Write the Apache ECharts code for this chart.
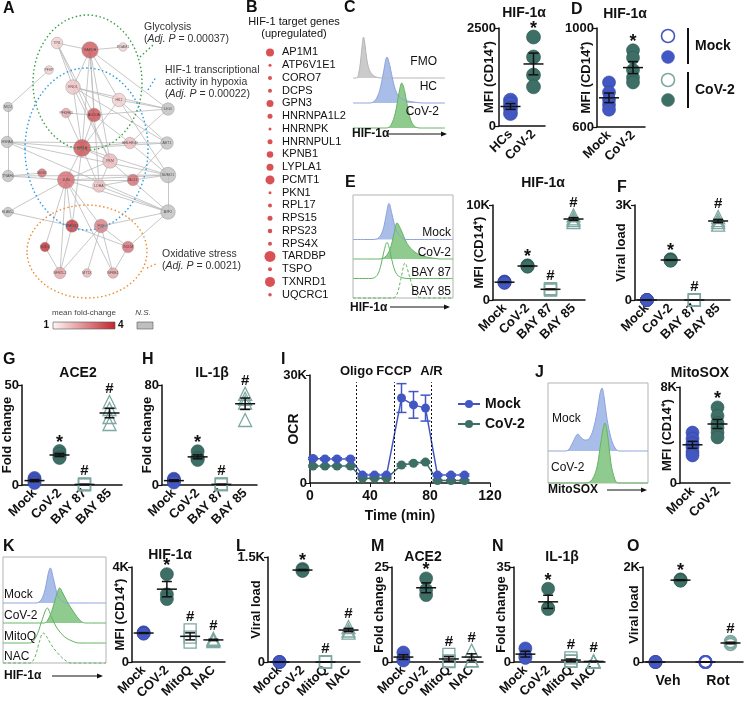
<!DOCTYPE html>
<html><head><meta charset="utf-8">
<script src="https://cdn.jsdelivr.net/npm/echarts@6/dist/echarts.min.js"></script>
<style>html,body{margin:0;padding:0;background:#fff}#c{width:747px;height:707px}</style>
</head><body><div id="c"></div>
<script>
// ================= DATA =================
// Panel A – network (nodes, mean fold-change, edges)
const netNodes = ['TPI1','GAPDH','PGAM1','PFKP','ENO1','HK1','LIG4','MCU','PFKFB3','ALDOA','HSPA8','HIF1A','BHLHE40','AKT1','PKM','TRAF6','NOS3','JUN','LDHA','MCL1','SUMO1','ELAVL1','ATF2','HMOX1','FOS','SOD2','GCLM','NFE2L2','MT1X','NFKB1'];
const netFC = [1.6,3.3,1.6,1.6,1.7,1.6,null,null,2.2,3.4,null,3.4,1.9,null,1.9,null,3.0,3.0,1.8,3.0,null,null,null,3.8,2.8,3.9,3.0,2.2,2.0,2.2];
const netEdges = [['TPI1','GAPDH'],['TPI1','ENO1'],['TPI1','ALDOA'],['TPI1','PKM'],['GAPDH','PGAM1'],['GAPDH','ENO1'],['GAPDH','ALDOA'],['GAPDH','HK1'],['GAPDH','LIG4'],['GAPDH','PKM'],['GAPDH','LDHA'],['GAPDH','HIF1A'],['PFKP','MCU'],['ENO1','HK1'],['ENO1','LIG4'],['ENO1','HIF1A'],['ENO1','PKM'],['ENO1','AKT1'],['HK1','LIG4'],['HK1','AKT1'],['HK1','HIF1A'],['HK1','SUMO1'],['PFKFB3','HIF1A'],['PFKFB3','ALDOA'],['ALDOA','LIG4'],['ALDOA','HIF1A'],['ALDOA','BHLHE40'],['MCU','TRAF6'],['HSPA8','AKT1'],['HSPA8','HIF1A'],['HSPA8','ATF2'],['HSPA8','SUMO1'],['HIF1A','JUN'],['HIF1A','BHLHE40'],['HIF1A','PKM'],['HIF1A','LDHA'],['HIF1A','SUMO1'],['HIF1A','AKT1'],['HIF1A','HMOX1'],['BHLHE40','LIG4'],['BHLHE40','SUMO1'],['PKM','LDHA'],['PKM','JUN'],['PKM','ATF2'],['TRAF6','JUN'],['TRAF6','NOS3'],['TRAF6','SUMO1'],['JUN','FOS'],['JUN','ATF2'],['JUN','SUMO1'],['JUN','HMOX1'],['JUN','NFE2L2'],['JUN','SOD2'],['JUN','MCL1'],['LDHA','ATF2'],['LDHA','MCL1'],['MCL1','AKT1'],['MCL1','SUMO1'],['SUMO1','ATF2'],['ELAVL1','JUN'],['ELAVL1','HMOX1'],['ATF2','FOS'],['ATF2','GCLM'],['HMOX1','NFE2L2'],['HMOX1','GCLM'],['FOS','GCLM'],['FOS','NFKB1'],['FOS','NFE2L2'],['GCLM','NFKB1'],['SOD2','NFE2L2'],['NFKB1','JUN'],['MT1X','FOS']];
// node placement of the network drawing (layout canvas units)
const netLayout = [[57,43],[90,50],[123,47],[49,70],[73,87],[119,100],[168,109],[8,107],[66,113],[94,115],[7,142],[82,148],[130,143],[167,143],[110,161],[8,176],[42,173],[66,180],[99,186],[133,180],[168,175],[8,212],[168,212],[72,226],[101,226],[45,247],[128,247],[60,273],[87,273],[113,273]];

// Panel B – HIF-1 target genes and relative dot weight
const hifGenes = ['AP1M1','ATP6V1E1','CORO7','DCPS','GPN3','HNRNPA1L2','HNRNPK','HNRNPUL1','KPNB1','LYPLA1','PCMT1','PKN1','RPL17','RPS15','RPS23','RPS4X','TARDBP','TSPO','TXNRD1','UQCRC1'];
const hifGeneWeight = [8,3,4,4,7,5,3,5,6.5,7,9,3,4,5,4.5,4,11,4,10,3.5];

// Panel C
const cCats = ['HCs','CoV-2'];
const cHC = [660,560,450,320];
const cCoV = [2270,1760,1300,1000];
// Panel D
const dCats = ['Mock','CoV-2'];
const dMock = [780,740,710,690,670];
const dCoV = [910,880,830,800,780];
// Panel E / F / G / H
const bayCats = ['Mock','CoV-2','BAY 87','BAY 85'];
const eMock = [1950,1900,1850,1800];
const eCoV = [3650,3600,3550,3500];
const eBay87 = [1200,1150,1100,1050];
const eBay85 = [8900,8600,8400,8200];
const fMock = [0,0,0,0];
const fCoV = [1290,1270,1250,1240];
const fBay87 = [0,0,0,0];
const fBay85 = [2620,2520,2460,2380];
const gMock = [3.5,2.5,1.8,1.0];
const gCoV = [17,15.5,14,13.5];
const gBay87 = [0.5,0.3,0.2,0.1];
const gBay85 = [41.5,38,34,30.5];
const hMock = [5,4,3,2];
const hCoV = [27,22,21,20];
const hBay87 = [0.8,0.5,0.4,0.3];
const hBay85 = [73,69,66,52];
// Panel I – OCR
const ocrTime = [2,10,18,27,35,43,51,61,69,77,85,94,103];
const ocrMock = [6800,6700,6700,6700,2200,2200,2200,23600,21700,20800,2200,2200,2200];
const ocrMockErr = [300,300,300,300,300,300,300,4000,3700,3600,300,300,300];
const ocrCoV = [4700,4700,4700,4700,1300,1300,1300,5000,5500,5800,700,700,700];
const ocrCoVErr = [250,250,250,250,200,200,200,300,300,300,200,200,200];
const injectTimes = [31,56,81];
const injectLabels = ['Oligo','FCCP','A/R'];
// Panel J
const jCats = ['Mock','CoV-2'];
const jMock = [4200,3700,3300,3000,2600,2300];
const jCoV = [6300,5600,5000,4600,4200,3800];
// Panel K / L / M / N
const kCats = ['Mock','COV-2','MitoQ','NAC'];
const roxCats = ['Mock','CoV-2','MitoQ','NAC'];
const kMock = [1250,1220,1190];
const kCoV = [3700,2850,2650];
const kMitoQ = [1350,1050,840];
const kNAC = [980,930,880];
const lMock = [0,0,0];
const lCoV = [1330,1310,1300];
const lMitoQ = [0,0,0];
const lNAC = [500,450,420];
const mMock = [2.5,1.0,0.4];
const mCoV = [22,19,17.6];
const mMitoQ = [2.0,0.3,0.1];
const mNAC = [3,0.5,0.4];
const nMock = [5,2.2,1.5];
const nCoV = [27,20,19.5];
const nMitoQ = [1.5,0.4,0.2];
const nNAC = [0.3,0.2,0.1];
// Panel O
const oCats = ['Veh Mock','Veh CoV-2','Rot Mock','Rot CoV-2'];
const oGroups = ['Veh','Rot'];
const oVehMock = [0,0,0];
const oVehCoV = [1740,1720,1710];
const oRotMock = [0,0,0];
const oRotCoV = [430,400,370];

// Flow histograms (fluorescence vs. relative count)
const hC_FMO = [[0,0],[4,0],[6,0.15],[8,0.6],[10,1.3],[11.5,1.64],[13,1.35],[15,0.75],[18,0.3],[22,0.1],[27,0.02],[32,0],[100,0]];
const hC_HC = [[0,0],[18,0],[24,0.1],[29,0.5],[33,1.2],[37,1.84],[40,1.5],[44,0.8],[49,0.3],[56,0.12],[66,0.04],[76,0],[100,0]];
const hC_CoV = [[0,0],[36,0],[41,0.1],[46,0.6],[50,1.4],[53,1.8],[56,1.5],[60,0.7],[64,0.2],[68,0.04],[73,0],[100,0]];
const hE_Mock = [[0,0],[20,0],[26,0.1],[30,0.5],[33,1.2],[36,1.85],[39,1.3],[43,0.5],[48,0.12],[54,0],[100,0]];
const hE_CoV = [[0,0],[26,0],[32,0.1],[37,0.5],[41,1.3],[44,1.85],[48,1.5],[54,0.8],[62,0.35],[72,0.12],[82,0.03],[88,0],[100,0]];
const hE_B87 = [[0,0],[18,0],[24,0.15],[28,0.7],[31,1.4],[34,1.85],[37,1.4],[40,0.7],[44,0.2],[50,0.03],[56,0],[100,0]];
const hE_B85 = [[0,0],[40,0],[44,0.2],[48,1.0],[52,1.8],[56,1.2],[60,0.5],[64,0.1],[70,0],[100,0]];
const hJ_Mock = [[0,0],[18,0],[22,0.1],[26,0.35],[30,0.53],[33,0.42],[37,0.34],[41,0.38],[45,0.65],[49,1.2],[52,1.8],[54,1.97],[56,1.7],[59,1.0],[63,0.4],[67,0.1],[71,0],[100,0]];
const hJ_CoV = [[0,0],[38,0],[44,0.1],[49,0.5],[53,1.3],[57,1.875],[60,1.4],[63,0.6],[67,0.1],[70,0],[100,0]];
const hK_Mock = [[0,0],[32,0],[37,0.15],[41,0.7],[44,1.5],[46,1.75],[49,1.2],[53,0.4],[57,0.1],[62,0],[100,0]];
const hK_CoV = [[0,0],[40,0],[44,0.2],[48,0.7],[52,1.4],[55,1.75],[58,1.5],[63,1.0],[68,0.6],[72,0.3],[76,0.08],[80,0],[100,0]];
const hK_MitoQ = [[0,0],[26,0],[32,0.3],[37,1.0],[41,1.6],[43,1.75],[47,1.3],[53,0.7],[60,0.3],[68,0.08],[74,0],[100,0]];
const hK_NAC = [[0,0],[26,0],[31,0.3],[35,1.0],[39,1.5],[42,1.35],[47,0.9],[53,0.5],[60,0.15],[66,0],[100,0]];

// ================= STYLE / BUILD =================
const FONT = '"Liberation Sans", Arial, Helvetica, sans-serif';
const NARROW = '"Liberation Sans Narrow", "Liberation Sans", Arial, sans-serif';
const BLUE = '#4357c2', TEAL = '#3d6f66', LTEAL = '#7ea8a1', INK = '#111';
const GFILL = '#8fca8f', GLINE = '#63b463', BFILL = '#a9bde9', BLINE = '#8ea3dd';
const MK = {
  mock: {symbol:'circle', size:13, fill:BLUE, stroke:'#33439c', bw:0.6},
  cov: {symbol:'circle', size:13, fill:TEAL, stroke:'#2b5750', bw:0.6},
  sq: {symbol:'rect', size:12, fill:'rgba(255,255,255,0)', stroke:LTEAL, bw:1.3},
  tri: {symbol:'triangle', size:13, fill:'rgba(255,255,255,0)', stroke:LTEAL, bw:1.3},
  mockOpen: {symbol:'circle', size:12, fill:'rgba(255,255,255,0)', stroke:BLUE, bw:2},
  covOpen: {symbol:'circle', size:12, fill:'rgba(255,255,255,0)', stroke:LTEAL, bw:1.6}
};
const grids = [], xAxes = [], yAxes = [], series = [], graphics = [];
const kfmt = v => v === 0 ? '0' : (v / 1000) + 'K';
const boldLabel = (sz) => ({fontFamily: FONT, fontWeight: 'bold', fontSize: sz, color: INK});
function addGrid(g, xa, ya) {
  const gi = grids.push(g) - 1;
  xa.gridIndex = gi; ya.gridIndex = gi;
  xa.nameMoveOverlap = false; ya.nameMoveOverlap = false;
  const xi = xAxes.push(xa) - 1;
  const yi = yAxes.push(ya) - 1;
  return {gi, xi, yi};
}

function txt(x, y, text, font, opt) {
  graphics.push({type:'text', x, y, z:20, silent:true,
    style: Object.assign({text, font, fill: INK, align:'left', verticalAlign:'middle'}, opt || {})});
}
function arrow(x1, x2, y) {
  graphics.push({type:'line', silent:true, shape:{x1, y1:y, x2:x2-5, y2:y}, style:{stroke:INK, lineWidth:1}});
  graphics.push({type:'polygon', silent:true, shape:{points:[[x2,y],[x2-6,y-2.5],[x2-6,y+2.5]]}, style:{fill:INK}});
}

// ---------- Panel A ----------
(function(){
  const ax = addGrid({left:0, top:0, width:230, height:300},
    {type:'value', min:0, max:230, show:false},
    {type:'value', min:0, max:300, inverse:true, show:false});
  const pos = n => netLayout[netNodes.indexOf(n)];
  const deg = netNodes.map(n => netEdges.filter(e => e[0] === n || e[1] === n).length);
  const fcColor = fc => {
    if (fc === null) return '#bfbfbf';
    const t = Math.max(0, Math.min(1, (fc - 1) / 3));
    const a = [255, 246, 246], b = [192, 39, 45];
    return 'rgb(' + a.map((c, i) => Math.round(c + (b[i] - c) * t)).join(',') + ')';
  };
  series.push({type:'lines', coordinateSystem:'cartesian2d', xAxisIndex:ax.xi, yAxisIndex:ax.yi, silent:true, z:1,
    data: netEdges.map(e => ({coords:[pos(e[0]), pos(e[1])]})),
    lineStyle:{color:'#b9b9b9', width:0.8, opacity:1}});
  series.push({type:'scatter', xAxisIndex:ax.xi, yAxisIndex:ax.yi, silent:true, z:3, clip:false,
    data: netNodes.map((n, i) => ({name:n, value:netLayout[i], symbolSize: Math.min(17, 7.5 + deg[i] * 1.0),
      itemStyle:{color: fcColor(netFC[i]), borderColor:'#8a8a8a', borderWidth:0.5}})),
    label:{show:true, position:'inside', formatter:'{b}', fontSize:3.5, color:'#333', fontFamily:FONT}});
  const el = (cx, cy, rx, ry, c) => graphics.push({type:'ellipse', silent:true, z:5, shape:{cx, cy, rx, ry},
    style:{fill:null, stroke:c, lineWidth:1.4, lineDash:[1.5, 2.5]}});
  const ld = (pts, c) => graphics.push({type:'polyline', silent:true, z:5, shape:{points:pts},
    style:{fill:null, stroke:c, lineWidth:1.4, lineDash:[1.5, 2.5]}});
  el(87.5, 82.5, 54.5, 67.5, '#3a9e45'); ld([[140,57],[153,45]], '#3a9e45');
  el(86.5, 149, 61.5, 81, '#2b9be0'); ld([[148,90],[156,77]], '#2b9be0');
  el(87, 251.5, 60, 46.5, '#ee8a2a'); ld([[147,268],[158,263]], '#ee8a2a');
  const rich = {i:{fontStyle:'italic', fontSize:10.5, fontFamily:FONT, fill:'#333'}, n:{fontSize:10.5, fontFamily:FONT, fill:'#333'}};
  const ann = (x, y, s) => graphics.push({type:'text', x, y, z:20, silent:true,
    style:{text:s, rich, fontSize:10.5, fontFamily:FONT, fill:'#333', verticalAlign:'middle'}});
  ann(144, 27, '{n|Glycolysis}'); ann(144, 39, '{n|(}{i|Adj. P}{n| = 0.00037)}');
  ann(165, 70, '{n|HIF-1 transcriptional}'); ann(165, 82, '{n|activity in hypoxia}'); ann(165, 94, '{n|(}{i|Adj. P}{n| = 0.00022)}');
  ann(162, 254, '{n|Oxidative stress}'); ann(162, 266, '{n|(}{i|Adj. P}{n| = 0.0021)}');
  // colour legend
  txt(84, 313, 'mean fold-change', '8px ' + FONT, {align:'center', fill:'#444'});
  txt(143, 313, 'N.S.', 'italic 8px ' + FONT, {align:'center', fill:'#444'});
  txt(49, 325, '1', 'bold 10px ' + FONT, {align:'right'});
  txt(118, 325, '4', 'bold 10px ' + FONT);
  graphics.push({type:'rect', silent:true, shape:{x:53, y:322, width:62, height:7},
    style:{stroke:'#555', lineWidth:0.6, fill:{type:'linear', x:0, y:0, x2:1, y2:0,
      colorStops:[{offset:0, color:'#fff6f6'}, {offset:1, color:'#c0272d'}]}}});
  graphics.push({type:'rect', silent:true, shape:{x:137, y:322, width:16, height:7}, style:{stroke:'#555', lineWidth:0.6, fill:'#bfbfbf'}});
})();

// ---------- Panel B ----------
(function(){
  const ax = addGrid({left:262, top:46, width:16, height:255},
    {type:'value', min:0, max:1, show:false},
    {type:'category', data:hifGenes, inverse:true, position:'right',
      axisLine:{show:false}, axisTick:{show:false}, splitLine:{show:false},
      axisLabel:{margin:4, interval:0, fontSize:11, fontFamily:NARROW, color:INK}});
  series.push({type:'scatter', xAxisIndex:ax.xi, yAxisIndex:ax.yi, silent:true, clip:false,
    data: hifGenes.map((g, i) => [0.5, i]),
    symbolSize: (v, p) => hifGeneWeight[p.dataIndex],
    itemStyle:{color:'#d0262b'}});
  txt(294, 22, 'HIF-1 target genes', '11px ' + NARROW, {align:'center'});
  txt(294, 34, '(upregulated)', '11px ' + NARROW, {align:'center'});
})();

// ---------- Histogram panels ----------
function histPanel(left, top, width, height, yMax, curves, box) {
  const ax = addGrid({left, top, width, height, show:!!box, borderColor:'#b3b3b3', borderWidth:1, backgroundColor:'rgba(0,0,0,0)'},
    {type:'value', min:0, max:100, show:false},
    {type:'value', min:0, max:yMax, show:false});
  curves.forEach(cv => {
    const s = {type:'line', xAxisIndex:ax.xi, yAxisIndex:ax.yi, silent:true, clip:false, z:2,
      data: cv.pts.map(p => [p[0], cv.base + p[1]]), smooth:0.35, symbol:'none',
      lineStyle:{color:cv.line, width:1, type: cv.dash ? [3, 2] : 'solid'}};
    if (cv.fill) s.areaStyle = {color:cv.fill, opacity:1, origin:cv.base};
    series.push(s);
  });
}
histPanel(353, 28, 92, 100, 4, [
  {pts:hC_FMO, base:2, line:'#b5b5b5', fill:'#cbcbcb'},
  {pts:hC_HC, base:1, line:BLINE, fill:BFILL},
  {pts:hC_CoV, base:0, line:GLINE, fill:GFILL}], false);
txt(437, 62, 'FMO', '12px ' + FONT, {align:'right'});
txt(437, 87, 'HC', '12px ' + FONT, {align:'right'});
txt(439, 112, 'CoV-2', '12px ' + FONT, {align:'right'});
txt(352, 134, 'HIF-1α', 'bold 12px ' + FONT); arrow(388, 447, 134);

histPanel(353, 195, 100, 103, 103 / 19.5, [
  {pts:hE_Mock, base:3, line:BLINE, fill:BFILL},
  {pts:hE_CoV, base:2, line:GLINE, fill:GFILL},
  {pts:hE_B87, base:1, line:GLINE},
  {pts:hE_B85, base:0, line:GLINE, dash:true}], true);
txt(451, 233, 'Mock', '12px ' + FONT, {align:'right'});
txt(451, 253, 'CoV-2', '12px ' + FONT, {align:'right'});
txt(451, 273, 'BAY 87', '12px ' + FONT, {align:'right'});
txt(451, 292, 'BAY 85', '12px ' + FONT, {align:'right'});
txt(350, 308, 'HIF-1α', 'bold 12px ' + FONT); arrow(390, 450, 307);

histPanel(548, 383, 100, 100, 100 / 32, [
  {pts:hJ_Mock, base:1, line:BLINE, fill:BFILL},
  {pts:hJ_CoV, base:0, line:GLINE, fill:GFILL}], true);
txt(552, 419, 'Mock', '12px ' + FONT);
txt(551, 468, 'CoV-2', '12px ' + FONT);
txt(548, 490, 'MitoSOX', 'bold 12px ' + FONT); arrow(607, 647, 490);

histPanel(3, 557, 103, 106, 106 / 20, [
  {pts:hK_Mock, base:3, line:BLINE, fill:BFILL},
  {pts:hK_CoV, base:2, line:GLINE, fill:GFILL},
  {pts:hK_MitoQ, base:1, line:GLINE},
  {pts:hK_NAC, base:0, line:GLINE, dash:true}], true);
txt(4, 595, 'Mock', '12px ' + FONT);
txt(4, 616, 'CoV-2', '12px ' + FONT);
txt(4, 637, 'MitoQ', '12px ' + FONT);
txt(4, 657, 'NAC', '12px ' + FONT);
txt(4, 676, 'HIF-1α', 'bold 12px ' + FONT); arrow(52, 103, 676);

// ---------- Dot plots ----------
function dotPanel(o) {
  const yMin = o.yMin || 0;
  const ax = addGrid({left:o.left, top:o.top, width:o.width, height:o.height},
    {type:'category', data:o.cats,
      axisLine:{lineStyle:{color:INK, width:1.5}},
      axisTick:{alignWithLabel:true, length:4, lineStyle:{color:INK, width:1.2}},
      axisLabel: Object.assign({show:!o.groupLabels, rotate:45, margin:6, interval:0}, boldLabel(13))},
    {type:'value', min:yMin, max:o.yMax, interval:o.yMax - yMin,
      splitLine:{show:false}, axisLine:{show:true, lineStyle:{color:INK, width:1.5}},
      axisTick:{show:true, length:4, lineStyle:{color:INK, width:1.2}},
      axisLabel: Object.assign({margin:3, formatter: o.fmt === 'k' ? kfmt : (v => String(v))}, boldLabel(13)),
      name:o.yName, nameLocation:'middle', nameRotate:90, nameGap:o.nameGap,
      nameTextStyle: boldLabel(13)});
  if (o.groupLabels) {
    xAxes.push({gridIndex:ax.gi, type:'category', data:o.groupLabels, position:'bottom',
      axisLine:{show:false}, axisTick:{show:false}, splitLine:{show:false},
      axisLabel: Object.assign({margin:12, interval:0}, boldLabel(14))});
  }
  o.groups.forEach((vals, i) => {
    const m = MK[o.mk[i]];
    series.push({type:'scatter', name:o.key + i, xAxisIndex:ax.xi, yAxisIndex:ax.yi, silent:true, clip:false, z:3,
      data: vals.map(v => [i, v]), symbol:m.symbol, symbolSize: o.size || m.size,
      itemStyle:{color:m.fill, borderColor:m.stroke, borderWidth:m.bw, opacity:1}});
  });
  const stats = o.groups.map((vals, i) => {
    const n = vals.length, mean = vals.reduce((a, b) => a + b, 0) / n;
    const sd = Math.sqrt(vals.reduce((a, b) => a + (b - mean) * (b - mean), 0) / (n - 1));
    return [i, mean, sd / Math.sqrt(n), Math.max.apply(null, vals)];
  });
  series.push({type:'custom', xAxisIndex:ax.xi, yAxisIndex:ax.yi, silent:true, z:6, clip:false, data:stats,
    renderItem: function(params, api) {
      const i = api.value(0), m = api.value(1), s = api.value(2), mx = api.value(3);
      const c = api.coord([i, m]), hi = api.coord([i, m + s]), lo = api.coord([i, Math.max(yMin, m - s)]);
      const top = api.coord([i, mx]);
      const st = {stroke:INK, lineWidth:1.5};
      const mw = 10, cw = 5;
      const ch = [
        {type:'line', shape:{x1:c[0]-mw, y1:c[1], x2:c[0]+mw, y2:c[1]}, style:st},
        {type:'line', shape:{x1:c[0], y1:hi[1], x2:c[0], y2:lo[1]}, style:st},
        {type:'line', shape:{x1:c[0]-cw, y1:hi[1], x2:c[0]+cw, y2:hi[1]}, style:st},
        {type:'line', shape:{x1:c[0]-cw, y1:lo[1], x2:c[0]+cw, y2:lo[1]}, style:st}];
      const sg = o.sig[params.dataIndex];
      if (sg) ch.push({type:'text', x:c[0], y: top[1] - (sg === '*' ? 8 : 13),
        style:{text:sg, fill:INK, font:(sg === '*' ? 'bold 18px ' : 'bold 15px ') + FONT, align:'center', verticalAlign:'middle'}});
      return {type:'group', children:ch};
    }});
}
const MFI = 'MFI (CD14⁺)';
[
  {key:'C', left:499, top:28, width:46, height:98, cats:cCats, groups:[cHC, cCoV], mk:['mock','cov'], size:14, yMax:2500, fmt:'plain', yName:MFI, nameGap:3, sig:['','*']},
  {key:'D', left:597, top:28, width:48, height:99, cats:dCats, groups:[dMock, dCoV], mk:['mock','cov'], yMin:600, yMax:1000, fmt:'plain', yName:MFI, nameGap:4, sig:['','*']},
  {key:'E', left:493, top:205, width:92, height:95, cats:bayCats, groups:[eMock, eCoV, eBay87, eBay85], mk:['mock','cov','sq','tri'], yMax:10000, fmt:'k', yName:MFI, nameGap:7, sig:['','*','#','#']},
  {key:'F', left:635, top:205, width:95, height:95, cats:bayCats, groups:[fMock, fCoV, fBay87, fBay85], mk:['mock','cov','sq','tri'], yMax:3000, fmt:'k', yName:'Viral load', nameGap:7, sig:['','*','#','#']},
  {key:'G', left:22, top:385, width:100, height:100, cats:bayCats, groups:[gMock, gCoV, gBay87, gBay85], mk:['mock','cov','sq','tri'], yMax:50, fmt:'plain', yName:'Fold change', nameGap:8, sig:['','*','#','#']},
  {key:'H', left:162, top:385, width:95, height:100, cats:bayCats, groups:[hMock, hCoV, hBay87, hBay85], mk:['mock','cov','sq','tri'], yMax:80, fmt:'plain', yName:'Fold change', nameGap:8, sig:['','*','#','#']},
  {key:'J', left:680, top:387, width:50, height:96, cats:jCats, groups:[jMock, jCoV], mk:['mock','cov'], yMax:8000, fmt:'k', yName:MFI, nameGap:6, sig:['','*']},
  {key:'K', left:132, top:567, width:93, height:95, cats:kCats, groups:[kMock, kCoV, kMitoQ, kNAC], mk:['mock','cov','sq','tri'], yMax:4000, fmt:'k', yName:MFI, nameGap:5, sig:['','*','#','#']},
  {key:'L', left:268, top:557, width:92, height:105, cats:roxCats, groups:[lMock, lCoV, lMitoQ, lNAC], mk:['mock','cov','sq','tri'], yMax:1500, fmt:'k', yName:'Viral load', nameGap:5, sig:['','*','#','#']},
  {key:'M', left:392, top:567, width:91, height:95, cats:roxCats, groups:[mMock, mCoV, mMitoQ, mNAC], mk:['mock','cov','sq','tri'], yMax:25, fmt:'plain', yName:'Fold change', nameGap:6, sig:['','*','#','#']},
  {key:'N', left:514, top:567, width:91, height:95, cats:roxCats, groups:[nMock, nCoV, nMitoQ, nNAC], mk:['mock','cov','sq','tri'], yMax:35, fmt:'plain', yName:'Fold change', nameGap:6, sig:['','*','#','#']},
  {key:'O', left:643, top:567, width:100, height:95, cats:oCats, groupLabels:oGroups, groups:[oVehMock, oVehCoV, oRotMock, oRotCoV], mk:['mock','cov','mockOpen','covOpen'], yMax:2000, fmt:'k', yName:'Viral load', nameGap:2, sig:['','*','','#']}
].forEach(dotPanel);

// ---------- Panel I ----------
(function(){
  const ax = addGrid({left:310, top:375, width:180, height:108},
    {type:'value', min:0, max:120, interval:40,
      axisLine:{show:true, onZero:false, lineStyle:{color:INK, width:1.5}}, axisTick:{show:true, length:4, lineStyle:{color:INK}},
      splitLine:{show:false}, axisLabel: Object.assign({margin:6}, boldLabel(14)),
      name:'Time (min)', nameLocation:'middle', nameGap:26, nameTextStyle: boldLabel(14)},
    {type:'value', min:0, max:30000, interval:30000,
      axisLine:{show:true, lineStyle:{color:INK, width:1.5}}, axisTick:{show:true, length:4, lineStyle:{color:INK}},
      splitLine:{show:false}, axisLabel: Object.assign({margin:3, formatter:kfmt}, boldLabel(13)),
      name:'OCR', nameLocation:'middle', nameRotate:90, nameGap:9, nameTextStyle: boldLabel(14)});
  series.push({type:'line', name:'Mock', xAxisIndex:ax.xi, yAxisIndex:ax.yi, clip:false, silent:true, z:4,
    data: ocrTime.map((t, i) => [t, ocrMock[i]]), symbol:'circle', symbolSize:9,
    itemStyle:{color:BLUE}, lineStyle:{color:BLUE, width:1.5},
    markLine:{symbol:'none', silent:true, animation:false,
      lineStyle:{type:[2, 2], color:INK, width:1},
      label:{show:true, position:'end', formatter:'{b}', distance:4, fontFamily:FONT, fontWeight:'bold', fontSize:13, color:INK},
      data: injectTimes.map((t, i) => [{coord:[t, 0], name:injectLabels[i]}, {coord:[t, 28000]}])}});
  series.push({type:'line', name:'CoV-2', xAxisIndex:ax.xi, yAxisIndex:ax.yi, clip:false, silent:true, z:3,
    data: ocrTime.map((t, i) => [t, ocrCoV[i]]), symbol:'circle', symbolSize:9,
    itemStyle:{color:TEAL}, lineStyle:{color:TEAL, width:1.5}});
  const eb = (vals, errs, col) => series.push({type:'custom', xAxisIndex:ax.xi, yAxisIndex:ax.yi, silent:true, z:5, clip:false,
    data: ocrTime.map((t, i) => [t, vals[i], errs[i]]),
    renderItem: (p, api) => {
      const t = api.value(0), v = api.value(1), e = api.value(2);
      const hi = api.coord([t, v + e]), lo = api.coord([t, v - e]);
      const st = {stroke:col, lineWidth:1.5};
      return {type:'group', children:[
        {type:'line', shape:{x1:hi[0], y1:hi[1], x2:lo[0], y2:lo[1]}, style:st},
        {type:'line', shape:{x1:hi[0]-5, y1:hi[1], x2:hi[0]+5, y2:hi[1]}, style:st},
        {type:'line', shape:{x1:lo[0]-5, y1:lo[1], x2:lo[0]+5, y2:lo[1]}, style:st}]};
    }});
  eb(ocrMock, ocrMockErr, BLUE);
  eb(ocrCoV, ocrCoVErr, TEAL);
})();

// ---------- D legend ----------
(function(){
  const circ = (cx, cy, fill, stroke, lw) => graphics.push({type:'circle', silent:true, shape:{cx, cy, r:6.5}, style:{fill, stroke, lineWidth:lw}});
  circ(668, 36, '#fff', BLUE, 1.6); circ(668, 57, BLUE, BLUE, 0.5);
  circ(668, 80, '#fff', LTEAL, 1.6); circ(668, 100, TEAL, TEAL, 0.5);
  graphics.push({type:'line', silent:true, shape:{x1:688, y1:28, x2:688, y2:64}, style:{stroke:INK, lineWidth:2}});
  graphics.push({type:'line', silent:true, shape:{x1:688, y1:72, x2:688, y2:108}, style:{stroke:INK, lineWidth:2}});
  txt(695, 46, 'Mock', 'bold 14px ' + FONT);
  txt(695, 90, 'CoV-2', 'bold 14px ' + FONT);
})();

// ---------- panel letters & titles ----------
[['A',3,9],['B',246,8],['C',344,8],['D',571,10],['E',345,183],['F',617,188],['G',3,360],['H',142,360],['I',281,360],['J',535,373],['K',3,547],['L',236,547],['M',371,547],['N',492,547],['O',627,547]]
  .forEach(l => txt(l[1], l[2], l[0], 'bold 16px ' + FONT));
[['HIF-1α',524,13],['HIF-1α',625,14],['HIF-1α',543,183],['ACE2',78,373],['IL-1β',212,373],['MitoSOX',700,373],['HIF-1α',170,555],['ACE2',423,557],['IL-1β',562,557]]
  .forEach(t => txt(t[1], t[2], t[0], 'bold 14px ' + FONT, {align:'center'}));

const chart = echarts.init(document.getElementById('c'), null, {renderer:'canvas'});
chart.setOption({
  animation:false, backgroundColor:'#fff',
  grid:grids, xAxis:xAxes, yAxis:yAxes, series:series,
  legend:{data:['Mock','CoV-2'], left:452, top:392, orient:'vertical', itemGap:6, itemWidth:22, itemHeight:10,
    textStyle:{fontFamily:FONT, fontWeight:'bold', fontSize:14, color:INK}},
  graphic:{elements:graphics}
});
</script></body></html>
